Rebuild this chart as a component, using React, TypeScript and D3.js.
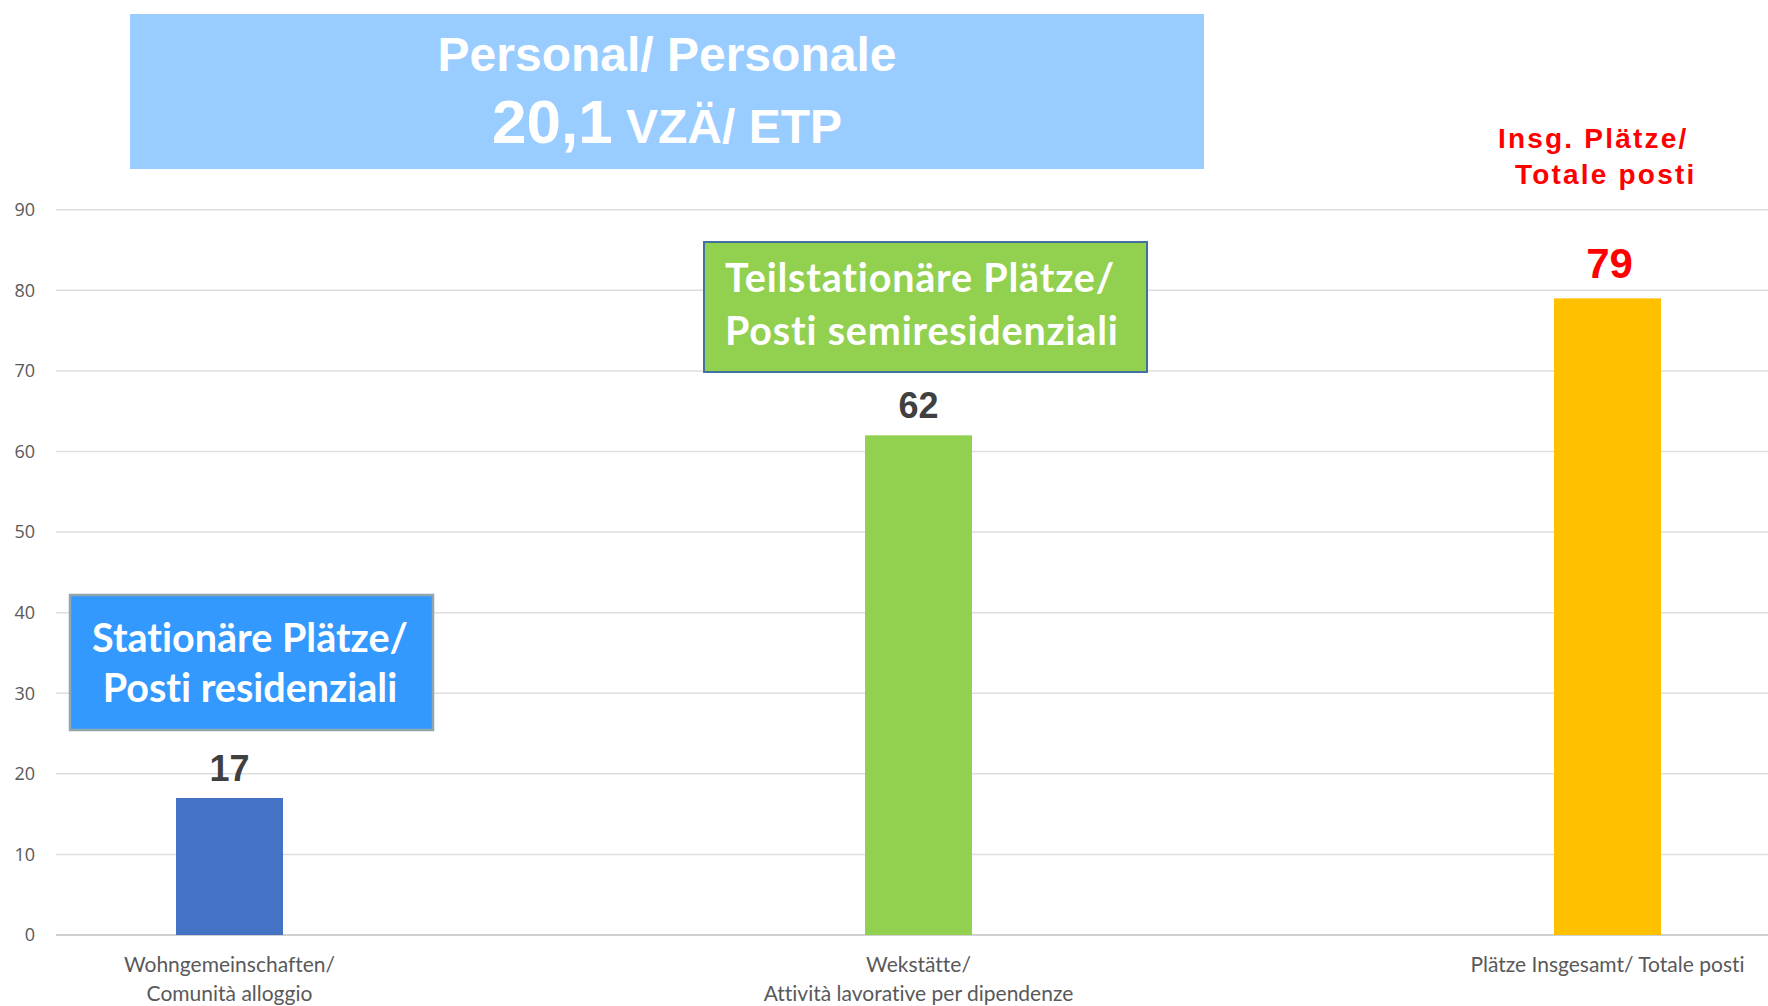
import React, { useEffect } from "react";
import * as d3 from "d3";

const categories = ["Wohngemeinschaften/\nComunità alloggio", "Wekstätte/\nAttività lavorative per dipendenze", "Plätze Insgesamt/ Totale posti"];
const values = [17, 62, 79];
const barColors = ["#4472C4", "#92D050", "#FFC000"];
const yTicks = [0, 10, 20, 30, 40, 50, 60, 70, 80, 90];

const W = 1768;
const H = 1006;

const noLig = { fontVariantLigatures: "none", fontFeatureSettings: "'liga' 0, 'clig' 0" } as React.CSSProperties;

export default function App() {
  useEffect(() => {
    document.body.style.margin = "0";
  }, []);

  const x = d3.scalePoint<string>().domain(categories).range([229.5, 1607.5]);
  const y = d3.scaleLinear().domain([0, 90]).range([935, 209.7]);
  const barW = 107;

  return (
    <svg width={W} height={H} style={{ display: "block", background: "#fff" }}>
      {/* gridlines */}
      {yTicks.map((t) => (
        <g key={t}>
          <line x1={56} x2={W} y1={y(t)} y2={y(t)} stroke={t === 0 ? "#d0d0d0" : "#dedede"} strokeWidth={t === 0 ? 2 : 1.5} />
          <text x={35} y={y(t)} dy="0.35em" textAnchor="end" fontFamily="'Open Sans', sans-serif" fontSize={18} fill="#595959">
            {t}
          </text>
        </g>
      ))}

      {/* bars */}
      {categories.map((c, i) => (
        <rect key={c} x={(x(c) as number) - barW / 2} y={y(values[i])} width={barW} height={y(0) - y(values[i])} fill={barColors[i]} />
      ))}

      {/* value labels */}
      {categories.map((c, i) => {
        const last = i === categories.length - 1;
        return (
          <text
            key={"v" + c}
            x={(x(c) as number) + (last ? 2 : 0)}
            y={y(values[i]) - (last ? 20 : 17)}
            textAnchor="middle"
            fontFamily="'Liberation Sans', Arial, sans-serif"
            fontWeight="bold"
            fontSize={last ? 42 : 36}
            fill={last ? "#FF0000" : "#404040"}
          >
            {values[i]}
          </text>
        );
      })}

      {/* category labels */}
      {categories.map((c) => (
        <text key={"c" + c} x={x(c) as number} y={972} textAnchor="middle" fontFamily="Lato, 'Open Sans', sans-serif" fontSize={21} fill="#595959" style={noLig}>
          {c.split("\n").map((line, j) => (
            <tspan key={j} x={x(c) as number} dy={j === 0 ? 0 : 29}>
              {line}
            </tspan>
          ))}
        </text>
      ))}

      {/* title box */}
      <rect x={130} y={14} width={1074} height={155} fill="#99CCFF" />
      <text x={667} y={71} textAnchor="middle" fontFamily="'Liberation Sans', Arial, sans-serif" fontWeight="bold" fontSize={48} fill="#fff">
        Personal/ Personale
      </text>
      <text x={667} y={143} textAnchor="middle" fontFamily="'Liberation Sans', Arial, sans-serif" fontWeight="bold" fill="#fff">
        <tspan fontSize={62}>20,1</tspan>
        <tspan fontSize={48}> VZÄ/ ETP</tspan>
      </text>

      {/* total annotation */}
      <text fontFamily="'Liberation Sans', Arial, sans-serif" fontWeight="bold" fontSize={28} fill="#FF0000" letterSpacing={2.2}>
        <tspan x={1498} y={148}>Insg. Plätze/</tspan>
        <tspan x={1515} y={184}>Totale posti</tspan>
      </text>

      {/* stationary box */}
      <rect x={70} y={595} width={363} height={135} fill="#3399FF" stroke="#8FA6AC" strokeWidth={2.5} />
      <text textAnchor="middle" fontFamily="Lato, 'Open Sans', sans-serif" fontWeight="bold" fontSize={39.5} fill="#fff" style={noLig}>
        <tspan x={250} y={652}>Stationäre Plätze/</tspan>
        <tspan x={250} y={702}>Posti residenziali</tspan>
      </text>

      {/* semi-residential box */}
      <rect x={704} y={242} width={443} height={130} fill="#92D050" stroke="#41719C" strokeWidth={2} />
      <text fontFamily="Lato, 'Open Sans', sans-serif" fontWeight="bold" fontSize={39.5} fill="#fff" letterSpacing={0.8} style={noLig}>
        <tspan x={725} y={292}>Teilstationäre Plätze/</tspan>
        <tspan x={725} y={345}>Posti semiresidenziali</tspan>
      </text>
    </svg>
  );
}
